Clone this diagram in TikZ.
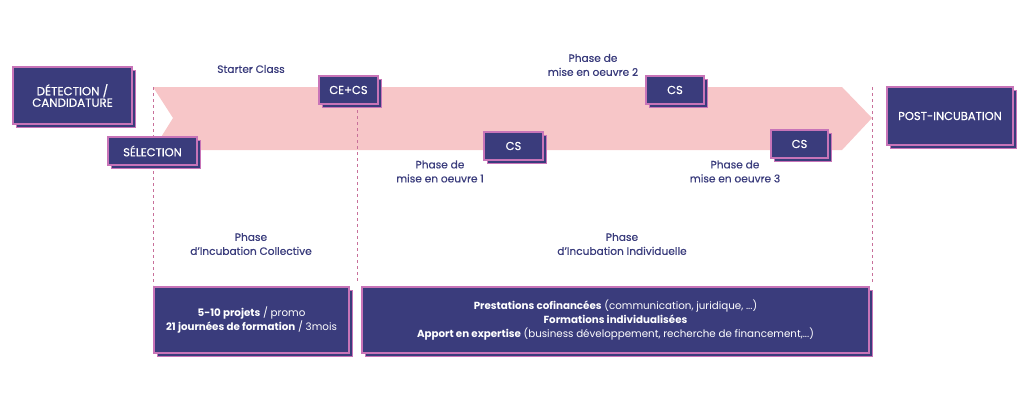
\documentclass[tikz,border=0pt]{standalone}
\usepackage{fontspec}
\setmainfont{Poppins}
\newfontfamily\medfont{Poppins}[FakeBold=0.6]
\usetikzlibrary{shadows}
\definecolor{navy}{HTML}{3A3C7C}
\definecolor{pinkline}{HTML}{C874B8}
\definecolor{band}{HTML}{F7C6C8}
\definecolor{dashc}{HTML}{C8709A}
\tikzset{
  box/.style={rectangle, draw=pinkline, line width=1.1pt, fill=navy, text=white,
    inner sep=0pt, align=center,
    copy shadow={shadow xshift=3.5pt, shadow yshift=-3.5pt}},
  bigtxt/.style={font=\medfont\fontsize{11.8}{11.5}\selectfont},
  smalltxt/.style={font=\medfont\fontsize{11.5}{12}\selectfont},
  lbl/.style={text=navy, align=center, inner sep=0pt, font=\medfont\fontsize{10.6}{14}\selectfont},
  btxt/.style={font=\fontsize{10.3}{14.2}\selectfont},
  guide/.style={draw=dashc, line width=0.7pt, dash pattern=on 3pt off 3pt}
}
\begin{document}
\begin{tikzpicture}[x=1pt,y=-1pt]
\useasboundingbox (0,0) rectangle (1024,404);
% band arrow
\fill[band] (153,87) -- (842,87) -- (872,118) -- (842,150) -- (153,150) -- (173,118) -- cycle;
% guide lines
\coordinate (g1a) at (153,87);  \coordinate (g1b) at (153,285);
\coordinate (g2a) at (357,104); \coordinate (g2b) at (357,282);
\coordinate (g3a) at (872,87);  \coordinate (g3b) at (872,283);
\draw[guide] (g1a) -- (g1b);
\draw[guide] (g2a) -- (g2b);
\draw[guide] (g3a) -- (g3b);
% boxes
\node[box, bigtxt, minimum width=119pt, minimum height=57pt] (det) at (72.5,95.5) {DÉTECTION /\\CANDIDATURE};
\node[box, smalltxt, minimum width=89pt, minimum height=28pt] (sel) at (152.5,151) {SÉLECTION};
\node[box, smalltxt, minimum width=59pt, minimum height=28pt] (cecs) at (348.5,90) {CE+CS};
\node[box, smalltxt, minimum width=59pt, minimum height=28pt] (cs1) at (513.5,146) {CS};
\node[box, smalltxt, minimum width=58pt, minimum height=28pt] (cs2) at (675,90) {CS};
\node[box, smalltxt, minimum width=57pt, minimum height=28pt] (cs3) at (799.5,144) {CS};
\node[box, smalltxt, minimum width=126pt, minimum height=58pt] (post) at (950,116) {POST-INCUBATION};
\node[box, btxt, minimum width=195pt, minimum height=66pt] (b1) at (251.5,320)
  {\textbf{5-10 projets} / promo\\\textbf{21 journées de formation} / 3mois};
\node[box, btxt, minimum width=507pt, minimum height=66pt] (b2) at (615.5,320)
  {\textbf{Prestations cofinancées} (communication, juridique, ...)\\
   \textbf{Formations individualisées}\\
   \textbf{Apport en expertise} (business développement, recherche de financement,...)};
% labels
\node[lbl] (starter) at (251,69) {Starter Class};
\node[lbl] (ph2) at (593,65) {Phase de\\mise en oeuvre 2};
\node[lbl] (ph1) at (440,171.5) {Phase de\\mise en oeuvre 1};
\node[lbl] (ph3) at (735,171.5) {Phase de\\mise en oeuvre 3};
\node[lbl] (incc) at (251,244) {Phase\\d’Incubation Collective};
\node[lbl] (inci) at (622,244) {Phase\\d’Incubation Individuelle};
\end{tikzpicture}
\end{document}
